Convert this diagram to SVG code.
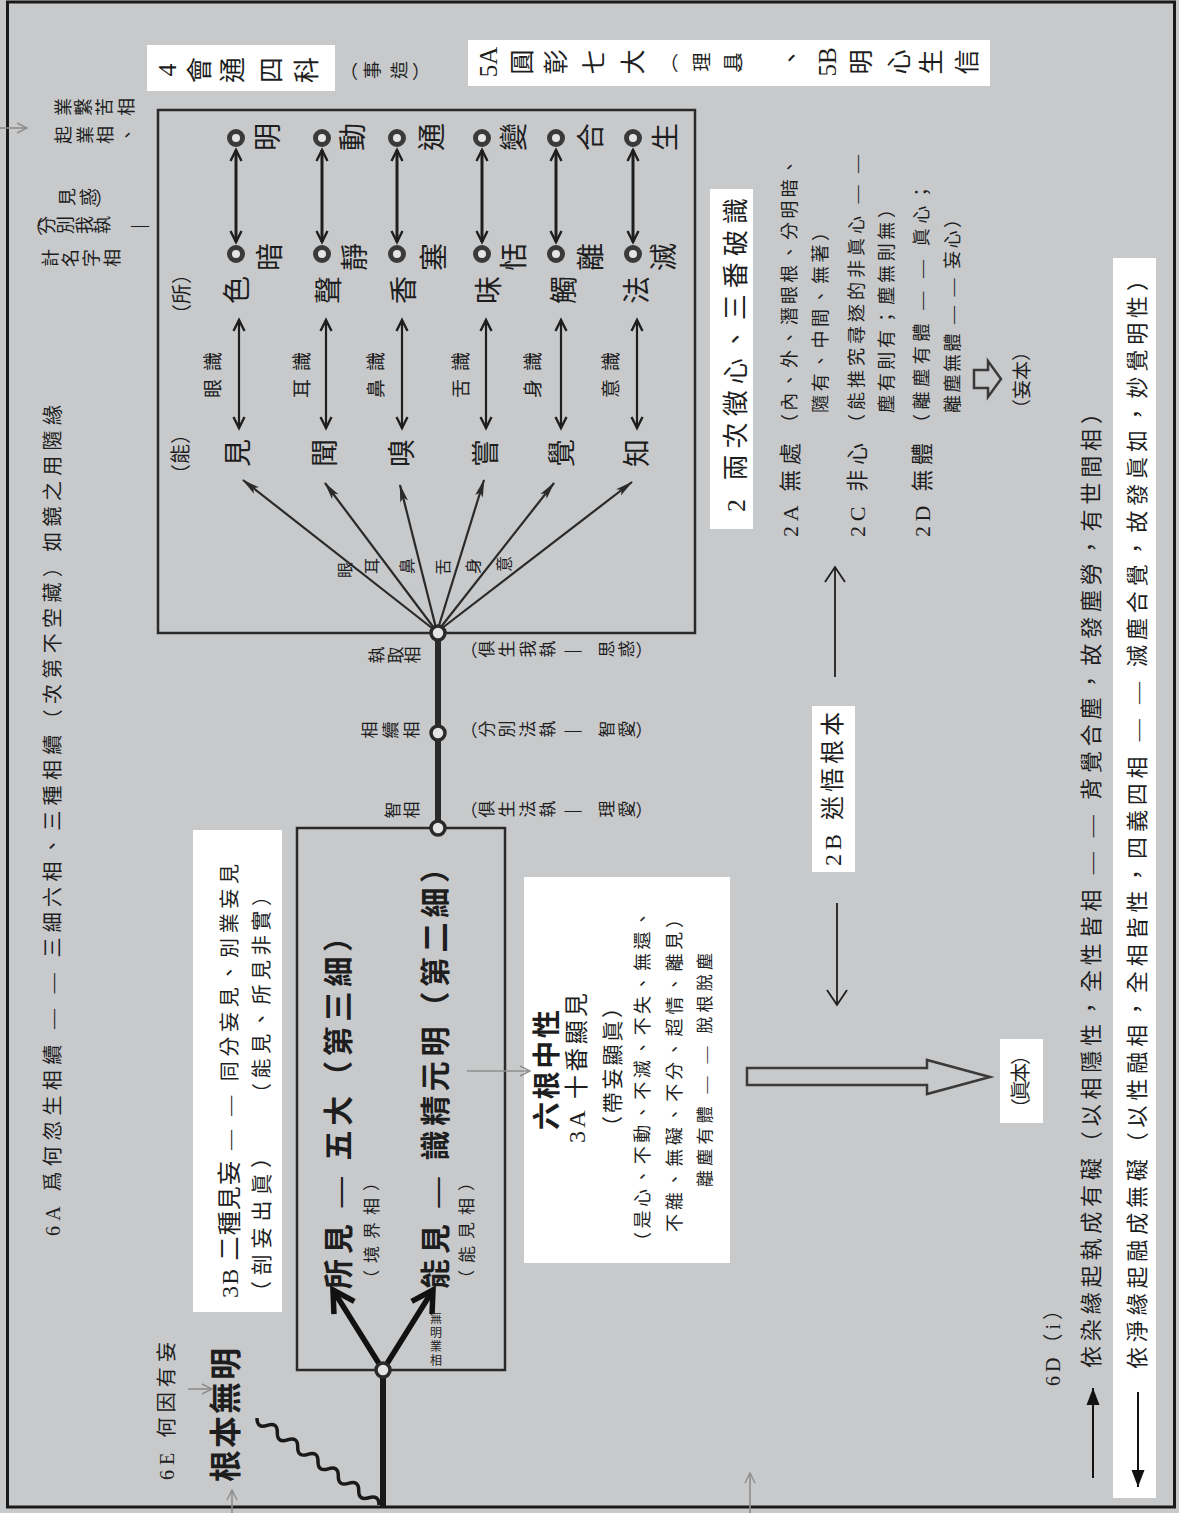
<svg xmlns="http://www.w3.org/2000/svg" width="1179" height="1513" viewBox="0 0 1179 1513">
<style>
.r{font-family:"Liberation Serif","Noto Sans CJK TC",serif;dominant-baseline:central;fill:#1e1e1e}
.t{font-family:"Liberation Serif","Noto Sans CJK TC",serif;dominant-baseline:central;text-anchor:middle;fill:#1e1e1e}
.u{font-family:"Noto Sans CJK TC",sans-serif;dominant-baseline:central;text-anchor:middle;fill:#1e1e1e}
.vt{font-family:"Noto Sans CJK TC",sans-serif;writing-mode:vertical-rl;fill:#1e1e1e}
.b{font-weight:bold}
.wb{fill:#ffffff}
.box{fill:none;stroke:#2a2a2a;stroke-width:2.5}
.ring{fill:#e4e4e4;stroke:#3a3a3a;stroke-width:5}
.node{fill:#e4e4e4;stroke:#2a2a2a;stroke-width:3.5}
.faint{stroke:#8e8e8e;stroke-width:1.6;fill:none;marker-end:url(#mf)}
.dbl{stroke:#1e1e1e;fill:none;marker-start:url(#md);marker-end:url(#md)}
.fan{stroke:#2a2a2a;stroke-width:2.2;fill:none;marker-end:url(#mfan)}
</style>
<defs>
<marker id="md" viewBox="0 0 14 14" refX="13" refY="7" markerWidth="14" markerHeight="14" markerUnits="userSpaceOnUse" orient="auto-start-reverse" overflow="visible"><path d="M2,1.5 L13,7 L2,12.5" fill="none" stroke="#1e1e1e" stroke-width="2.4"/></marker>
<marker id="mfan" viewBox="0 0 18 8" refX="17" refY="4" markerWidth="18" markerHeight="8" markerUnits="userSpaceOnUse" orient="auto" overflow="visible"><path d="M0,0 L18,4 L0,8 L4,4 z" fill="#2a2a2a"/></marker>
<marker id="mth" viewBox="0 0 28 28" refX="25" refY="14" markerWidth="28" markerHeight="28" markerUnits="userSpaceOnUse" orient="auto" overflow="visible"><path d="M4,2 L25,14 L4,26" fill="none" stroke="#111" stroke-width="5.5"/></marker>
<marker id="mt" viewBox="0 0 18 22" refX="16" refY="11" markerWidth="18" markerHeight="22" markerUnits="userSpaceOnUse" orient="auto" overflow="visible"><path d="M1,1 L16,11 L1,21" fill="none" stroke="#1e1e1e" stroke-width="1.8"/></marker>
<marker id="mfill" viewBox="0 0 17 13" refX="17" refY="6.5" markerWidth="17" markerHeight="13" markerUnits="userSpaceOnUse" orient="auto" overflow="visible"><path d="M0,0 L17,6.5 L0,13 z" fill="#111"/></marker>
<marker id="mf" viewBox="0 0 12 12" refX="11" refY="6" markerWidth="12" markerHeight="12" markerUnits="userSpaceOnUse" orient="auto" overflow="visible"><path d="M1,1 L11,6 L1,11" fill="none" stroke="#8e8e8e" stroke-width="1.4"/></marker>
</defs>

<g id="bg">
<rect x="0" y="0" width="1179" height="1513" fill="#c8c9cb"/>
<rect x="7.5" y="2" width="1167" height="1505" fill="none" stroke="#1a1a1a" stroke-width="3"/>
</g>

<g id="whiteboxes">
<rect class="wb" x="147" y="45" width="188" height="46"/>
<rect class="wb" x="468" y="40" width="522" height="46"/>
<rect class="wb" x="710" y="189" width="43" height="340"/>
<rect class="wb" x="812" y="706" width="43" height="166"/>
<rect class="wb" x="1113" y="258" width="43" height="1240"/>
<rect class="wb" x="193" y="830" width="89" height="482"/>
<rect class="wb" x="524" y="877" width="206" height="386"/>
<rect class="wb" x="1000" y="1039" width="43" height="84"/>
</g>

<g id="frames">
<rect class="box" x="158" y="110" width="537" height="523"/>
<rect class="box" x="297" y="828" width="208" height="542"/>
</g>

<g id="connectors">
<line class="dbl" stroke-width="3" x1="236" y1="150" x2="236" y2="242"/>
<line class="dbl" stroke-width="3" x1="322" y1="150" x2="322" y2="242"/>
<line class="dbl" stroke-width="3" x1="397" y1="150" x2="397" y2="242"/>
<line class="dbl" stroke-width="3" x1="482" y1="150" x2="482" y2="242"/>
<line class="dbl" stroke-width="3" x1="556" y1="150" x2="556" y2="242"/>
<line class="dbl" stroke-width="3" x1="633" y1="150" x2="633" y2="242"/>
<line class="dbl" stroke-width="2.2" x1="239" y1="320" x2="239" y2="428"/>
<line class="dbl" stroke-width="2.2" x1="326" y1="320" x2="326" y2="428"/>
<line class="dbl" stroke-width="2.2" x1="402" y1="320" x2="402" y2="428"/>
<line class="dbl" stroke-width="2.2" x1="486" y1="320" x2="486" y2="428"/>
<line class="dbl" stroke-width="2.2" x1="561" y1="320" x2="561" y2="428"/>
<line class="dbl" stroke-width="2.2" x1="637" y1="320" x2="637" y2="428"/>
<line class="fan" x1="437" y1="632" x2="243" y2="480"/>
<line class="fan" x1="437" y1="632" x2="325" y2="483"/>
<line class="fan" x1="437" y1="632" x2="400" y2="485"/>
<line class="fan" x1="437" y1="632" x2="484" y2="480"/>
<line class="fan" x1="437" y1="632" x2="554" y2="483"/>
<line class="fan" x1="437" y1="632" x2="632" y2="482"/>
<line x1="438" y1="633" x2="438" y2="828" stroke="#2a2a2a" stroke-width="6"/>
<line x1="383" y1="1370" x2="383" y2="1508" stroke="#1a1a1a" stroke-width="6"/>
<line x1="383" y1="1370" x2="333" y2="1290" stroke="#111" stroke-width="5.5" marker-end="url(#mth)"/>
<line x1="383" y1="1370" x2="433" y2="1290" stroke="#111" stroke-width="5.5" marker-end="url(#mth)"/>
<path d="M257,1418 Q256.9,1428.9 267.2,1425.3 T277.3,1432.5 T287.5,1439.8 T297.7,1447 T307.8,1454.3 T318,1461.5 T328.2,1468.8 T338.3,1476 T348.5,1483.3 T358.7,1490.5 T368.8,1497.8 T379,1505" fill="none" stroke="#1a1a1a" stroke-width="3.5"/>
<line x1="835" y1="677" x2="835" y2="567" stroke="#1e1e1e" stroke-width="1.8" marker-end="url(#mt)"/>
<line x1="837" y1="903" x2="837" y2="1005" stroke="#1e1e1e" stroke-width="1.8" marker-end="url(#mt)"/>
<line x1="1093" y1="1478" x2="1093" y2="1388" stroke="#111" stroke-width="2" marker-end="url(#mfill)"/>
<line x1="1138" y1="1392" x2="1138" y2="1487" stroke="#111" stroke-width="2" marker-end="url(#mfill)"/>
<polygon points="747,1068 927,1068 927,1060 990,1077 927,1094 927,1085 747,1085" fill="none" stroke="#3a3a3a" stroke-width="2.5"/>
<polygon points="974,370 988,370 988,361 1001,379 988,397 988,388 974,388" fill="none" stroke="#3a3a3a" stroke-width="2.5"/>
<line class="faint" x1="0" y1="128" x2="27" y2="128"/>
<line class="faint" x1="188" y1="1389" x2="212" y2="1389"/>
<line class="faint" x1="232" y1="1513" x2="232" y2="1490"/>
<line class="faint" x1="750" y1="1513" x2="750" y2="1473"/>
<line class="faint" x1="467" y1="1071" x2="530" y2="1071"/>
</g>

<g id="rings">
<circle class="ring" cx="236" cy="138" r="6.5"/><circle class="ring" cx="236" cy="254" r="6.5"/>
<circle class="ring" cx="322" cy="138" r="6.5"/><circle class="ring" cx="322" cy="254" r="6.5"/>
<circle class="ring" cx="397" cy="138" r="6.5"/><circle class="ring" cx="397" cy="254" r="6.5"/>
<circle class="ring" cx="482" cy="138" r="6.5"/><circle class="ring" cx="482" cy="254" r="6.5"/>
<circle class="ring" cx="556" cy="138" r="6.5"/><circle class="ring" cx="556" cy="254" r="6.5"/>
<circle class="ring" cx="633" cy="138" r="6.5"/><circle class="ring" cx="633" cy="254" r="6.5"/>
<circle class="node" cx="438" cy="633" r="7"/>
<circle class="node" cx="438" cy="733" r="7"/>
<circle class="node" cx="438" cy="828" r="7"/>
<circle class="node" cx="383" cy="1370" r="7"/>
</g>

<g id="n-6A">
<text class="r" font-size="20" transform="translate(53,1236) rotate(-90)" textLength="831" lengthAdjust="spacing">6A 爲何忽生相續 — — 三細六相、三種相續（次第不空藏）如鏡之用隨緣</text>
</g>

<g id="n-topleft" font-size="18">
<text class="t" transform="translate(64,107) rotate(-90)">業</text>
<text class="t" transform="translate(84,107) rotate(-90)">繫</text>
<text class="t" transform="translate(105,107) rotate(-90)">苦</text>
<text class="t" transform="translate(127,107) rotate(-90)">相</text>
<text class="t" transform="translate(64,135) rotate(-90)">起</text>
<text class="t" transform="translate(86,135) rotate(-90)">業</text>
<text class="t" transform="translate(106,135) rotate(-90)">相</text>
<text class="t" transform="translate(128,135) rotate(-90)">、</text>
<text class="t" transform="translate(68,197) rotate(-90)">見</text>
<text class="t" transform="translate(89,197) rotate(-90)">惑</text>
<text class="u" x="104" y="197">）</text>
<text class="u" x="34" y="225">（</text>
<text class="t" transform="translate(48,225) rotate(-90)">分</text>
<text class="t" transform="translate(66,225) rotate(-90)">別</text>
<text class="t" transform="translate(85,225) rotate(-90)">我</text>
<text class="t" transform="translate(103,225) rotate(-90)">執</text>
<text class="t" x="140" y="225">—</text>
<text class="t" transform="translate(51,258) rotate(-90)">計</text>
<text class="t" transform="translate(71,258) rotate(-90)">名</text>
<text class="t" transform="translate(92,258) rotate(-90)">字</text>
<text class="t" transform="translate(113,258) rotate(-90)">相</text>
</g>

<g id="n-4">
<g font-size="26">
<text class="t" transform="translate(167,70) rotate(-90)">4</text>
<text class="t" transform="translate(200,70) rotate(-90)">會</text>
<text class="t" transform="translate(233,70) rotate(-90)">通</text>
<text class="t" transform="translate(272,70) rotate(-90)">四</text>
<text class="t" transform="translate(307,70) rotate(-90)">科</text>
</g>
<g font-size="18">
<text class="u" x="349" y="70">（</text>
<text class="t" transform="translate(373,70) rotate(-90)">事</text>
<text class="t" transform="translate(400,70) rotate(-90)">造</text>
<text class="u" x="421" y="70">）</text>
</g>
</g>

<g id="n-5">
<g font-size="25">
<text class="t" transform="translate(488,62) rotate(-90)">5A</text>
<text class="t" transform="translate(522,62) rotate(-90)">圓</text>
<text class="t" transform="translate(556,62) rotate(-90)">彰</text>
<text class="t" transform="translate(594,62) rotate(-90)">七</text>
<text class="t" transform="translate(633,62) rotate(-90)">大</text>
<text class="t" transform="translate(792,58) rotate(-90)">、</text>
<text class="t" transform="translate(827,62) rotate(-90)">5B</text>
<text class="t" transform="translate(861,62) rotate(-90)">明</text>
<text class="t" transform="translate(899,62) rotate(-90)">心</text>
<text class="t" transform="translate(931,62) rotate(-90)">生</text>
<text class="t" transform="translate(967,62) rotate(-90)">信</text>
</g>
<g font-size="19">
<text class="u" x="669" y="62">（</text>
<text class="t" transform="translate(702,62) rotate(-90)">理</text>
<text class="t" transform="translate(733,62) rotate(-90)">具</text>
<text class="u" x="746" y="62">）</text>
</g>
</g>

<g id="n-upper">
<g font-size="28">
<text class="t" transform="translate(268,137) rotate(-90)">明</text>
<text class="t" transform="translate(353,137) rotate(-90)">動</text>
<text class="t" transform="translate(432,137) rotate(-90)">通</text>
<text class="t" transform="translate(514,137) rotate(-90)">變</text>
<text class="t" transform="translate(591,137) rotate(-90)">合</text>
<text class="t" transform="translate(666,137) rotate(-90)">生</text>
<text class="t" transform="translate(270,257) rotate(-90)">暗</text>
<text class="t" transform="translate(355,257) rotate(-90)">靜</text>
<text class="t" transform="translate(434,257) rotate(-90)">塞</text>
<text class="t" transform="translate(514,257) rotate(-90)">恬</text>
<text class="t" transform="translate(591,257) rotate(-90)">離</text>
<text class="t" transform="translate(664,257) rotate(-90)">滅</text>
<text class="t" transform="translate(237,290) rotate(-90)">色</text>
<text class="t" transform="translate(329,290) rotate(-90)">聲</text>
<text class="t" transform="translate(404,290) rotate(-90)">香</text>
<text class="t" transform="translate(489,290) rotate(-90)">味</text>
<text class="t" transform="translate(564,290) rotate(-90)">觸</text>
<text class="t" transform="translate(637,290) rotate(-90)">法</text>
<text class="t" transform="translate(238,453) rotate(-90)">見</text>
<text class="t" transform="translate(325,453) rotate(-90)">聞</text>
<text class="t" transform="translate(402,453) rotate(-90)">嗅</text>
<text class="t" transform="translate(486,453) rotate(-90)">嘗</text>
<text class="t" transform="translate(562,453) rotate(-90)">覺</text>
<text class="t" transform="translate(637,453) rotate(-90)">知</text>
</g>
<text class="r" font-size="20" transform="translate(182,324) rotate(-90)" textLength="60" lengthAdjust="spacing">（所）</text>
<text class="r" font-size="20" transform="translate(181,484) rotate(-90)" textLength="60" lengthAdjust="spacing">（能）</text>
<g font-size="19">
<text class="r" transform="translate(213,398) rotate(-90)" textLength="46" lengthAdjust="spacing">眼識</text>
<text class="r" transform="translate(302,398) rotate(-90)" textLength="46" lengthAdjust="spacing">耳識</text>
<text class="r" transform="translate(376,398) rotate(-90)" textLength="46" lengthAdjust="spacing">鼻識</text>
<text class="r" transform="translate(461,398) rotate(-90)" textLength="46" lengthAdjust="spacing">舌識</text>
<text class="r" transform="translate(533,398) rotate(-90)" textLength="46" lengthAdjust="spacing">身識</text>
<text class="r" transform="translate(611,398) rotate(-90)" textLength="46" lengthAdjust="spacing">意識</text>
</g>
<g font-size="16">
<text class="t" transform="translate(345,570) rotate(-90)">眼</text>
<text class="t" transform="translate(372,566) rotate(-90)">耳</text>
<text class="t" transform="translate(407,566) rotate(-90)">鼻</text>
<text class="t" transform="translate(443,567) rotate(-90)">舌</text>
<text class="t" transform="translate(473,566) rotate(-90)">身</text>
<text class="t" transform="translate(504,564) rotate(-90)">意</text>
</g>
</g>

<g id="n-trunk-labels" font-size="17">
<text class="t" transform="translate(377,655) rotate(-90)">執</text>
<text class="t" transform="translate(396,655) rotate(-90)">取</text>
<text class="t" transform="translate(413,655) rotate(-90)">相</text>
<text class="t" transform="translate(370,730) rotate(-90)">相</text>
<text class="t" transform="translate(391,730) rotate(-90)">續</text>
<text class="t" transform="translate(412,730) rotate(-90)">相</text>
<text class="t" transform="translate(393,810) rotate(-90)">智</text>
<text class="t" transform="translate(412,810) rotate(-90)">相</text>

<text class="u" x="469" y="649">（</text>
<text class="t" transform="translate(487,649) rotate(-90)">俱</text>
<text class="t" transform="translate(507,649) rotate(-90)">生</text>
<text class="t" transform="translate(528,649) rotate(-90)">我</text>
<text class="t" transform="translate(548,649) rotate(-90)">執</text>
<text class="t" x="573" y="649">—</text>
<text class="t" transform="translate(607,649) rotate(-90)">思</text>
<text class="t" transform="translate(627,649) rotate(-90)">惑</text>
<text class="u" x="644" y="649">）</text>

<text class="u" x="469" y="729">（</text>
<text class="t" transform="translate(487,729) rotate(-90)">分</text>
<text class="t" transform="translate(507,729) rotate(-90)">別</text>
<text class="t" transform="translate(528,729) rotate(-90)">法</text>
<text class="t" transform="translate(548,729) rotate(-90)">執</text>
<text class="t" x="573" y="729">—</text>
<text class="t" transform="translate(607,729) rotate(-90)">智</text>
<text class="t" transform="translate(627,729) rotate(-90)">愛</text>
<text class="u" x="644" y="729">）</text>

<text class="u" x="469" y="809">（</text>
<text class="t" transform="translate(487,809) rotate(-90)">俱</text>
<text class="t" transform="translate(507,809) rotate(-90)">生</text>
<text class="t" transform="translate(528,809) rotate(-90)">法</text>
<text class="t" transform="translate(548,809) rotate(-90)">執</text>
<text class="t" x="573" y="809">—</text>
<text class="t" transform="translate(607,809) rotate(-90)">理</text>
<text class="t" transform="translate(627,809) rotate(-90)">愛</text>
<text class="u" x="644" y="809">）</text>
</g>

<g id="n-2">
<text class="r" font-size="26" transform="translate(736,512) rotate(-90)" textLength="314" lengthAdjust="spacing">2 兩次徵心、三番破識</text>
</g>

<g id="n-2A2C2D">
<text class="r" font-size="22" transform="translate(790,537) rotate(-90)" textLength="94" lengthAdjust="spacing">2A 無處</text>
<text class="r" font-size="18" transform="translate(790,432) rotate(-90)" textLength="274" lengthAdjust="spacing">（內、外、潛眼根、分明暗、</text>
<text class="r" font-size="18" transform="translate(821,413) rotate(-90)" textLength="190" lengthAdjust="spacing">隨有、中間、無著）</text>
<text class="r" font-size="22" transform="translate(857,537) rotate(-90)" textLength="94" lengthAdjust="spacing">2C 非心</text>
<text class="r" font-size="18" transform="translate(857,432) rotate(-90)" textLength="277" lengthAdjust="spacing">（能推究尋逐的非眞心 — —</text>
<text class="r" font-size="18" transform="translate(887,413) rotate(-90)" textLength="213" lengthAdjust="spacing">塵有則有；塵無則無）</text>
<text class="r" font-size="22" transform="translate(922,537) rotate(-90)" textLength="94" lengthAdjust="spacing">2D 無體</text>
<text class="r" font-size="18" transform="translate(922,432) rotate(-90)" textLength="249" lengthAdjust="spacing">（離塵有體 — — 眞心；</text>
<text class="r" font-size="18" transform="translate(953,413) rotate(-90)" textLength="203" lengthAdjust="spacing">離塵無體 — — 妄心）</text>
<text class="r" font-size="19" transform="translate(1022,418) rotate(-90)" textLength="76" lengthAdjust="spacing">（妄本）</text>
</g>

<g id="n-2B">
<text class="r" font-size="24" transform="translate(833,866) rotate(-90)" textLength="154" lengthAdjust="spacing">2B 迷悟根本</text>
</g>

<g id="n-zhenben">
<text class="r" font-size="20" transform="translate(1021,1118) rotate(-90)" textLength="73" lengthAdjust="spacing">（眞本）</text>
</g>

<g id="n-6D">
<text class="r" font-size="20" transform="translate(1053,1386) rotate(-90)" textLength="86" lengthAdjust="spacing">6D（i）</text>
<text class="r" font-size="22" transform="translate(1091,1368) rotate(-90)" textLength="966" lengthAdjust="spacing">依染緣起執成有礙（以相隱性，全性皆相 — — 背覺合塵，故發塵勞，有世間相）</text>
<text class="r" font-size="22" transform="translate(1137,1369) rotate(-90)" textLength="1100" lengthAdjust="spacing">依淨緣起融成無礙（以性融相，全相皆性，四義四相 — — 滅塵合覺，故發眞如，妙覺明性）</text>
</g>

<g id="n-6E">
<text class="r" font-size="20" transform="translate(167,1480) rotate(-90)" textLength="138" lengthAdjust="spacing">6E 何因有妄</text>
<text class="r b" font-size="32" transform="translate(226,1482) rotate(-90)" textLength="134" lengthAdjust="spacing">根本無明</text>
</g>

<g id="n-3B">
<text class="r" font-size="24" transform="translate(230,1298) rotate(-90)" textLength="137" lengthAdjust="spacing">3B 二種見妄</text>
<text class="r" font-size="20" transform="translate(230,1150) rotate(-90)" textLength="286" lengthAdjust="spacing">— — 同分妄見、別業妄見</text>
<text class="r" font-size="21" transform="translate(262,1302) rotate(-90)" textLength="155" lengthAdjust="spacing">（剖妄出眞）</text>
<text class="r" font-size="20" transform="translate(262,1103) rotate(-90)" textLength="217" lengthAdjust="spacing">（能見、所見非實）</text>
</g>

<g id="n-lower">
<text class="r b" font-size="30" transform="translate(338,1289) rotate(-90)" textLength="367" lengthAdjust="spacing">所見 — 五大（第三細）</text>
<text class="r" font-size="17" transform="translate(372,1287) rotate(-90)" textLength="113" lengthAdjust="spacing">（境界相）</text>
<text class="r b" font-size="30" transform="translate(435,1289) rotate(-90)" textLength="436" lengthAdjust="spacing">能見 — 識精元明（第二細）</text>
<text class="r" font-size="17" transform="translate(467,1287) rotate(-90)" textLength="113" lengthAdjust="spacing">（能見相）</text>
<text class="vt" font-size="12" x="436" y="1312" letter-spacing="2">無明業相</text>
</g>

<g id="n-3A">
<text class="r b" font-size="28" transform="translate(547,1130) rotate(-90)" textLength="120" lengthAdjust="spacing">六根中性</text>
<text class="r" font-size="24" transform="translate(577,1143) rotate(-90)" textLength="150" lengthAdjust="spacing">3A 十番顯見</text>
<text class="r" font-size="21" transform="translate(613,1137) rotate(-90)" textLength="140" lengthAdjust="spacing">（帶妄顯眞）</text>
<text class="r" font-size="18" transform="translate(643,1250) rotate(-90)" textLength="340" lengthAdjust="spacing">（是心、不動、不滅、不失、無還、</text>
<text class="r" font-size="18" transform="translate(675,1232) rotate(-90)" textLength="322" lengthAdjust="spacing">不雜、無礙、不分、超情、離見）</text>
<text class="r" font-size="17" transform="translate(705,1187) rotate(-90)" textLength="234" lengthAdjust="spacing">離塵有體 — — 脫根脫塵</text>
</g>
</svg>
